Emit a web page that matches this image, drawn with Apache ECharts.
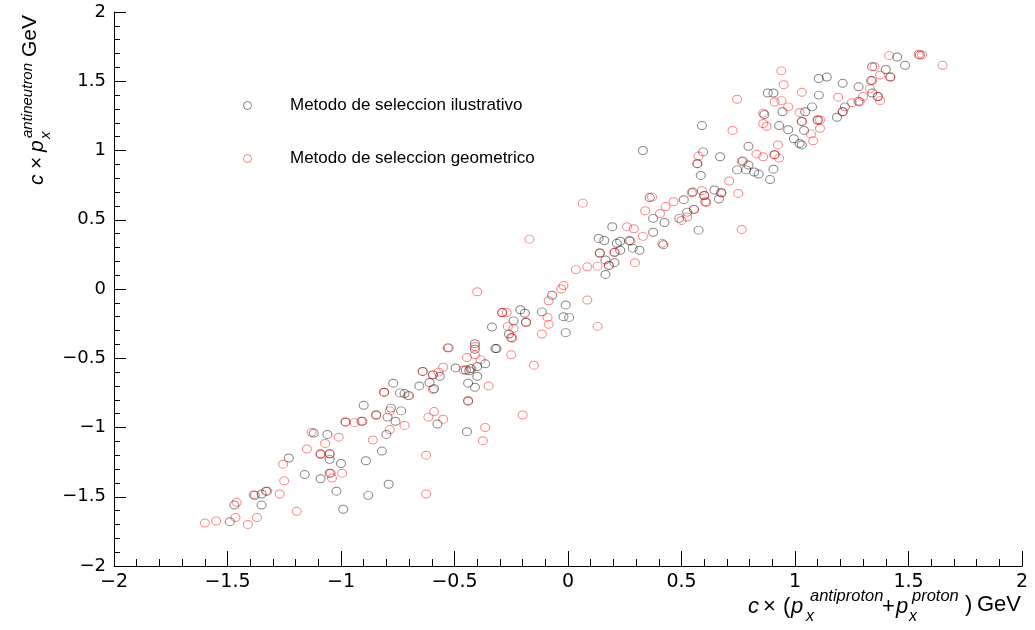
<!DOCTYPE html>
<html>
<head>
<meta charset="utf-8">
<script src="https://cdn.jsdelivr.net/npm/echarts@6/dist/echarts.min.js"></script>
<style>
html,body{margin:0;padding:0;background:#fff;}
#chart{width:1035px;height:630px;}
</style>
</head>
<body>
<div id="chart"></div>
<script>
// ---- data (x = c*(px antiproton + px proton) GeV, y = c*px antineutron GeV)
const seriesNames = ['Metodo de seleccion ilustrativo', 'Metodo de seleccion geometrico'];
const axisTicks = [-2, -1.5, -1, -0.5, 0, 0.5, 1, 1.5, 2];

const ilustrativo = [
[-1.49,-1.68],[-1.47,-1.56],[-1.35,-1.56],[-1.35,-1.48],[-1.38,-1.49],[-1.33,-1.46],[-1.23,-1.22],[-1.16,-1.34],[-1.12,-1.04],[-1.06,-1.05],[-1.05,-1.23],[-1.09,-1.37],[-1.00,-1.26],[-1.02,-1.46],[-0.99,-1.59],[-0.89,-1.24],[-0.88,-1.49],[-0.82,-1.17],[-0.79,-1.41],[-0.80,-1.05],[-1.09,-1.19],[-1.05,-1.19],[-1.05,-1.33],
[-0.98,-0.96],[-0.91,-0.955],[-0.845,-0.91],[-0.81,-0.745],[-0.78,-0.86],[-0.70,-0.77],[-0.595,-0.62],[-0.64,-0.595],[-0.53,-0.425],[-0.44,-0.81],[-0.43,-0.575],
[-0.90,-0.84],[-0.795,-0.925],[-0.76,-0.955],[-0.735,-0.88],[-0.77,-0.68],[-0.74,-0.75],[-0.72,-0.755],[-0.655,-0.70],[-0.61,-0.675],[-0.59,-0.72],[-0.565,-0.63],[-0.575,-0.975],[-0.495,-0.57],[-0.445,-1.03],[-0.44,-0.68],[-0.41,-0.71],[-0.40,-0.63],[-0.40,-0.56],[-0.365,-0.54],[-0.41,-0.395],[-0.41,-0.435],[-0.32,-0.43],[-0.45,-0.585],[-0.435,-0.59],
[-0.335,-0.275],[-0.315,-0.43],[-0.26,-0.325],[-0.25,-0.35],[-0.24,-0.23],[-0.21,-0.15],[-0.19,-0.175],[-0.185,-0.24],[-0.115,-0.165],[-0.07,-0.045],[-0.01,-0.115],[-0.02,-0.20],[0.005,-0.205],[-0.01,-0.315],[0.165,0.105],[0.165,0.21],[0.205,0.19],[0.135,0.365],[0.16,0.35],[0.195,0.45],[0.215,0.33],[-0.29,-0.17],[0.14,0.26],[0.205,0.265],[0.18,0.17],
[0.33,1.0],[0.23,0.345],[0.23,0.28],[0.285,0.295],[0.315,0.28],[0.375,0.41],[0.375,0.51],[0.425,0.48],[0.42,0.32],[0.36,0.66],[0.49,0.51],[0.51,0.645],[0.525,0.555],[0.575,0.425],[0.55,0.70],[0.645,0.715],[0.665,0.65],[0.585,0.82],[0.595,0.99],[0.67,0.955],[0.745,0.86],[0.785,0.86],[0.82,0.845],[0.795,1.03],[0.795,0.895],[0.77,0.925],[0.27,0.35],[0.555,0.575],[0.60,0.675],[0.605,0.63],[0.675,0.695],[0.57,0.905],
[0.59,1.18],[0.84,0.83],[0.89,0.79],[0.905,0.865],[0.88,1.415],[0.905,1.415],[0.865,1.26],[0.945,1.28],[0.93,1.18],[0.97,1.15],[0.995,1.085],[1.02,1.05],[1.03,1.04],[1.04,1.145],[1.045,1.28],[1.075,1.315],[1.105,1.40],[1.105,1.52],[1.14,1.53],[1.21,1.485],[1.28,1.46],[1.185,1.24],[1.22,1.315],[1.28,1.355],[1.34,1.415],[1.335,1.505],[1.34,1.605],[0.91,0.97],[1.03,1.21],[1.10,1.22],[1.21,1.28],
[1.45,1.675],[1.485,1.615],[1.40,1.585],[1.55,1.69],[1.365,1.39],[1.42,1.53]
];

const geometrico = [
[-1.60,-1.69],[-1.55,-1.675],[-1.46,-1.54],[-1.465,-1.65],[-1.41,-1.70],[-1.37,-1.65],[-1.385,-1.485],[-1.325,-1.46],[-1.27,-1.48],[-1.25,-1.385],[-1.255,-1.265],[-1.195,-1.605],[-1.15,-1.155],[-1.13,-1.035],[-1.07,-1.115],[-1.09,-1.195],[-1.05,-1.19],[-1.045,-1.33],[-1.04,-1.365],[-0.995,-1.33],[-1.01,-1.07],[-0.86,-1.09],[-0.785,-1.015],
[-0.98,-0.96],[-0.94,-0.965],[-0.905,-0.955],[-0.845,-0.91],[-0.81,-0.745],[-0.785,-0.88],[-0.72,-0.985],[-0.705,-0.77],[-0.625,-1.20],[-0.615,-0.925],[-0.59,-0.885],[-0.55,-0.94],[-0.595,-0.725],[-0.595,-0.62],[-0.64,-0.595],[-0.57,-0.60],[-0.55,-0.565],[-0.525,-0.425],[-0.46,-0.585],[-0.445,-0.495],[-0.41,-0.475],[-0.385,-0.51],[-0.44,-0.805],[-0.35,-0.70],[-0.365,-1.0],[-0.375,-1.095],[-0.425,-0.575],[-0.625,-1.48],
[-0.17,0.36],[-0.40,-0.02],[-0.41,-0.415],[-0.29,-0.17],[-0.27,-0.17],[-0.265,-0.27],[-0.24,-0.285],[-0.245,-0.355],[-0.25,-0.475],[-0.185,-0.24],[-0.115,-0.325],[-0.085,-0.255],[-0.09,-0.205],[-0.085,-0.085],[-0.03,0.0],[-0.02,0.025],[0.085,-0.08],[0.13,-0.27],[0.035,0.14],[0.085,0.16],[0.13,0.165],[0.14,0.26],[0.205,0.265],[0.18,0.17],[-0.20,-0.91],[-0.15,-0.55],
[0.065,0.62],[0.295,0.19],[0.275,0.345],[0.26,0.45],[0.29,0.435],[0.33,0.38],[0.34,0.565],[0.37,0.665],[0.405,0.545],[0.415,0.33],[0.43,0.595],[0.465,0.63],[0.50,0.495],[0.525,0.52],[0.555,0.575],[0.545,0.695],[0.59,0.71],[0.60,0.675],[0.61,0.625],[0.675,0.695],[0.71,0.78],[0.75,0.69],[0.765,0.43],[0.57,0.905],[0.575,0.96],[0.765,0.92],[0.83,0.975],[0.725,1.145],
[0.745,1.37],[0.94,1.575],[0.95,1.475],[0.91,1.35],[0.94,1.36],[0.97,1.315],[1.03,1.42],[0.86,1.27],[0.86,1.195],[0.875,1.175],[1.02,1.275],[1.03,1.21],[1.10,1.22],[1.11,1.22],[1.11,1.16],[1.07,1.12],[1.08,1.07],[0.925,1.04],[0.86,0.955],[0.91,0.97],[0.93,0.945],[1.19,1.385],[1.21,1.28],[1.25,1.345],[1.30,1.39],[1.33,1.445],[1.34,1.505],[1.35,1.605],
[1.415,1.685],[1.545,1.695],[1.56,1.69],[1.65,1.615],[1.375,1.545],[1.42,1.53],[1.375,1.36],[1.365,1.39],[1.285,1.35]
];

// ---- styling
const BLACK = 'rgba(0,0,0,0.6)';
const RED = 'rgba(255,0,0,0.6)';
const MAIN = 'Liberation Sans, Arial, Helvetica, sans-serif';
const TICKFONT = 'DejaVu Sans, sans-serif';
const fmt = v => String(v).replace('-', '\u2212');

function axisCommon(fontSize, labelMargin, major, minor) {
  return {
    type: 'value', min: axisTicks[0], max: axisTicks[axisTicks.length - 1], interval: 0.5,
    axisLine: { show: true, onZero: false, lineStyle: { color: '#000', width: 1 } },
    axisTick: { show: true, inside: true, length: major, lineStyle: { color: '#000', width: 1 } },
    minorTick: { show: true, splitNumber: 5, length: minor, lineStyle: { color: '#000', width: 1 } },
    splitLine: { show: false },
    minorSplitLine: { show: false },
    axisLabel: { show: true, color: '#000', fontFamily: TICKFONT, fontSize: fontSize, margin: labelMargin, formatter: fmt }
  };
}

function t(text, x, y, size, italic, extra) {
  return Object.assign({
    type: 'text', x: x, y: y,
    style: { text: text, fill: '#000', font: (italic ? 'italic ' : '') + size + 'px ' + MAIN, textVerticalAlign: 'bottom' }
  }, extra || {});
}
// baseline helper: bottom-aligned text box; descent ~0.21em
function tb(text, x, baseline, size, italic) { return t(text, x, baseline + Math.round(size * 0.22), size, italic); }

const chart = echarts.init(document.getElementById('chart'), null, { renderer: 'canvas' });
chart.setOption({
  animation: false,
  backgroundColor: '#fff',
  grid: { left: 114, right: 13, top: 12, bottom: 64, containLabel: false, outerBoundsMode: 'none' },
  xAxis: axisCommon(19, 7, 15, 7),
  yAxis: axisCommon(18, 8, 12, 6),
  legend: {
    show: true, orient: 'vertical', left: 238, top: 92, itemGap: 36,
    itemWidth: 9, itemHeight: 8,
    textStyle: { color: '#000', fontFamily: MAIN, fontSize: 17, padding: [0, 0, 0, 33] },
    data: [
      { name: seriesNames[0], icon: 'circle', itemStyle: { color: 'rgba(0,0,0,0)', borderColor: BLACK, borderWidth: 1 } },
      { name: seriesNames[1], icon: 'circle', itemStyle: { color: 'rgba(0,0,0,0)', borderColor: RED, borderWidth: 1 } }
    ],
    selectedMode: false
  },
  series: [
    { name: seriesNames[0], type: 'scatter', data: ilustrativo, symbol: 'circle', symbolSize: [9, 8],
      itemStyle: { color: 'rgba(0,0,0,0)', borderColor: BLACK, borderWidth: 1 }, emphasis: { disabled: true } },
    { name: seriesNames[1], type: 'scatter', data: geometrico, symbol: 'circle', symbolSize: [9, 8],
      itemStyle: { color: 'rgba(0,0,0,0)', borderColor: RED, borderWidth: 1 }, emphasis: { disabled: true } }
  ],
  graphic: [
    { type: 'group', silent: true, children: [
      tb('c', 748, 613, 22, true),
      tb('\u00d7', 763, 613, 22, false),
      tb('(', 783, 613, 22, false),
      tb('p', 791, 613, 22, true),
      tb('x', 806, 621, 16, true),
      tb('antiproton', 810, 601, 16.5, true),
      tb('+', 882, 613, 22, false),
      tb('p', 896, 613, 22, true),
      tb('x', 909, 621, 16, true),
      tb('proton', 912, 601, 16.5, true),
      tb(')', 965, 611, 22, false),
      tb('GeV', 977, 611, 22, false)
    ]},
    { type: 'group', silent: true, x: 0, y: 190, rotation: Math.PI / 2, children: [
      tb('c', 5, 43, 21, true),
      tb('\u00d7', 21, 43, 21, false),
      tb('p', 38, 43, 21, true),
      tb('x', 51, 50, 15, true),
      tb('antineutron', 52, 32, 15, true),
      tb('GeV', 133, 36, 21, false)
    ]}
  ]
});
</script>
</body>
</html>
